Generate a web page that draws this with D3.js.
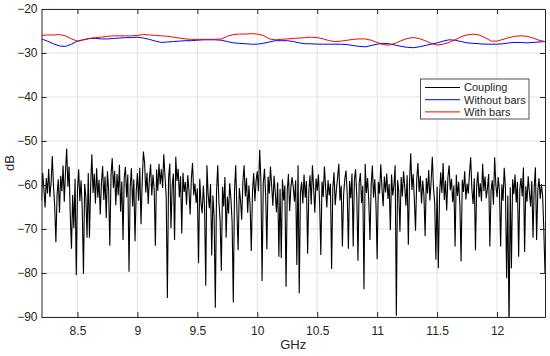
<!DOCTYPE html>
<html>
<head>
<meta charset="utf-8">
<script src="https://cdn.jsdelivr.net/npm/d3@7"></script>
<style>
  html, body { margin: 0; padding: 0; background: #fff; }
  svg { display: block; font-family: "Liberation Sans", Arial, sans-serif; }
</style>
</head>
<body>
<div id="chart"></div>
<script>
// sweep: 8.2 .. 12.4 GHz
const fStart = 8.2, fStop = 12.4;

// blue / red traces, one value every 0.05 GHz
const withoutBars = [
  -26.8, -27.3, -27.9, -28.4, -28.5, -28.0, -27.3, -27.0, -26.7, -26.7,
  -26.8, -26.8, -26.7, -26.6, -26.5, -26.5, -26.4, -26.6, -26.9, -27.3,
  -27.6, -27.5, -27.4, -27.3, -27.2, -27.2, -27.1, -27.0, -27.0, -27.0,
  -27.1, -27.4, -27.7, -27.8, -27.9, -28.0, -28.0, -27.8, -27.5, -27.2,
  -27.2, -27.2, -27.4, -27.7, -27.9, -27.9, -28.0, -28.0, -28.0, -28.0,
  -28.0, -28.1, -28.3, -28.5, -28.6, -28.3, -28.0, -27.8, -27.9, -28.2,
  -28.5, -28.7, -28.8, -28.6, -28.3, -28.0, -27.7, -27.3, -27.0, -27.1,
  -27.4, -27.7, -27.8, -27.9, -28.0, -28.0, -28.0, -27.9, -27.7, -27.6,
  -27.6, -27.7, -27.6, -27.5, -27.4
];
const withBars = [
  -26.0, -25.9, -25.9, -25.8, -26.1, -26.8, -27.3, -27.0, -26.7, -26.5,
  -26.4, -26.2, -26.1, -26.1, -26.1, -26.1, -26.0, -25.8, -25.9, -26.0,
  -26.1, -26.2, -26.4, -26.6, -26.8, -26.9, -26.9, -26.9, -26.9, -26.9,
  -26.8, -26.2, -25.8, -25.7, -25.7, -25.6, -25.7, -26.0, -26.8, -27.0,
  -26.9, -26.8, -26.7, -26.6, -26.5, -26.4, -26.5, -26.8, -27.2, -27.4,
  -27.3, -27.1, -26.9, -26.8, -26.8, -27.1, -27.6, -28.1, -28.2, -27.8,
  -27.2, -26.7, -26.5, -26.7, -27.2, -27.8, -28.2, -28.0, -27.6, -27.0,
  -26.3, -25.9, -25.7, -25.9, -26.5, -27.3, -27.3, -26.9, -26.5, -26.2,
  -26.1, -26.2, -26.6, -27.1, -27.4
];

// black trace, one value every 0.01 GHz
const coupling = [
  -63.5, -57.2, -60.8, -65.1, -58.4, -61.9, -56.3, -62.7, -59.5, -53.4,
  -60.2, -64.8, -73.0, -62.1, -58.7, -66.3, -57.9, -61.4, -55.6, -63.8,
  -57.1, -51.7, -60.4, -55.8, -66.9, -74.5, -62.3, -69.8, -58.6, -80.5,
  -61.2, -56.4, -63.7, -58.9, -65.5, -80.2, -59.8, -62.6, -72.0, -57.3,
  -72.0, -60.1, -53.0, -61.8, -57.4, -64.2, -56.2, -62.9, -58.8, -66.7,
  -59.6, -55.7, -63.4, -58.1, -67.5, -56.9, -61.2, -73.8, -57.8, -53.9,
  -60.7, -56.8, -64.6, -57.5, -62.3, -55.4, -66.1, -59.2, -72.5, -58.3,
  -55.9, -62.8, -57.6, -79.7, -60.4, -56.2, -64.9, -58.7, -72.8, -61.5,
  -57.3, -63.6, -56.1, -68.9, -59.4, -52.4, -55.0, -61.7, -57.2, -64.3,
  -58.6, -55.3, -62.4, -57.7, -60.9, -73.8, -56.5, -61.3, -55.2, -59.8,
  -56.4, -60.7, -53.0, -57.9, -62.5, -85.7, -58.3, -55.1, -69.8, -60.2,
  -57.4, -72.5, -53.6, -59.1, -56.3, -62.8, -58.0, -71.0, -57.2, -61.6,
  -59.3, -64.5, -57.8, -61.2, -66.7, -58.5, -55.0, -62.3, -59.7, -64.1,
  -60.8, -77.8, -58.6, -63.9, -66.4, -60.2, -64.7, -82.9, -55.5, -62.1,
  -65.3, -59.8, -76.0, -62.4, -67.2, -87.9, -61.6, -55.5, -63.8, -68.1,
  -79.5, -60.4, -64.9, -58.2, -72.0, -62.7, -66.5, -59.6, -63.1, -68.4,
  -86.7, -61.3, -55.5, -65.8, -74.8, -60.7, -63.4, -67.9, -59.2, -55.5,
  -62.6, -58.4, -66.3, -60.1, -64.8, -75.0, -61.5, -57.3, -63.7, -59.0,
  -56.9, -61.4, -52.0, -58.8, -81.8, -59.6, -56.3, -62.5, -74.6, -58.1,
  -62.0, -55.8, -60.3, -64.7, -57.9, -61.8, -66.2, -59.4, -76.3, -60.9,
  -76.6, -58.7, -63.5, -60.1, -83.1, -61.2, -57.5, -65.9, -60.6, -58.2,
  -60.4, -63.8, -58.9, -78.2, -55.5, -84.6, -61.7, -59.3, -64.2, -57.6,
  -62.9, -59.1, -75.6, -61.5, -57.8, -64.4, -55.5, -60.7, -66.3, -58.5,
  -61.3, -57.6, -63.9, -75.9, -59.2, -62.7, -55.8, -60.5, -65.1, -58.9,
  -62.4, -59.7, -79.1, -60.8, -57.1, -64.6, -61.0, -58.3, -55.2, -63.5,
  -60.2, -74.0, -62.3, -58.6, -56.7, -61.9, -74.5, -59.1, -63.0, -57.4,
  -74.0, -58.8, -56.4, -62.7, -77.2, -59.5, -57.3, -64.1, -60.2, -83.7,
  -55.2, -61.8, -58.4, -63.6, -72.5, -60.1, -55.6, -62.9, -58.7, -64.4,
  -76.9, -59.3, -62.0, -55.3, -60.6, -64.8, -58.1, -61.7, -57.4, -63.2,
  -59.8, -70.2, -57.6, -62.4, -60.0, -55.5, -89.7, -58.9, -61.3, -70.6,
  -58.2, -62.6, -56.9, -60.4, -64.7, -57.8, -73.6, -59.4, -52.8, -61.1,
  -57.5, -63.2, -70.4, -58.7, -55.0, -61.6, -57.9, -64.2, -59.0, -62.3,
  -71.6, -58.4, -61.9, -56.6, -63.5, -59.2, -53.6, -60.8, -64.0, -77.0,
  -60.4, -78.9, -62.7, -57.1, -61.8, -55.0, -63.4, -59.0, -65.8, -58.3,
  -55.5, -61.2, -58.6, -63.9, -60.1, -74.0, -57.7, -62.5, -59.3, -64.6,
  -77.4, -58.8, -61.6, -56.9, -63.3, -59.7, -62.0, -57.4, -53.7, -60.9,
  -64.3, -58.5, -74.8, -60.2, -57.0, -62.8, -59.6, -63.7, -55.2, -61.4,
  -58.1, -63.0, -60.7, -57.5, -74.0, -61.3, -58.9, -64.5, -53.7, -60.0,
  -62.8, -58.2, -61.5, -74.0, -59.9, -63.6, -56.1, -60.8, -81.2, -62.4,
  -93.0, -60.5, -78.9, -58.7, -62.1, -57.6, -64.0, -59.3, -76.3, -61.0,
  -58.4, -62.6, -56.0, -75.2, -60.3, -63.8, -58.0, -61.7, -64.9, -59.1,
  -72.0, -60.6, -56.0, -72.5, -61.2, -58.5, -63.1, -59.8, -62.4, -70.0,
  -80.0
];

const xTicks = [8.5, 9, 9.5, 10, 10.5, 11, 11.5, 12];
const yTicks = [-90, -80, -70, -60, -50, -40, -30, -20];
const seriesNames = ['Coupling', 'Without bars', 'With bars'];
const seriesColors = ['#000000', '#0000ff', '#ff0000'];

const W = 550, H = 356;
const margin = { top: 9, right: 5, bottom: 39, left: 41.5 };
const innerW = W - margin.left - margin.right;
const innerH = H - margin.top - margin.bottom;
const axisColor = '#262626';

const svg = d3.select('#chart').append('svg')
  .attr('width', W).attr('height', H);

const x = d3.scaleLinear().domain([fStart, fStop]).range([0, innerW]);
const y = d3.scaleLinear().domain([-90, -20]).range([innerH, 0]);

const g = svg.append('g').attr('transform', `translate(${margin.left},${margin.top})`);

// grid
g.append('g').selectAll('line.gx').data(xTicks).join('line')
  .attr('x1', d => x(d)).attr('x2', d => x(d))
  .attr('y1', 0).attr('y2', innerH)
  .attr('stroke', '#e3e3e3').attr('stroke-width', 1);
g.append('g').selectAll('line.gy').data(yTicks).join('line')
  .attr('x1', 0).attr('x2', innerW)
  .attr('y1', d => y(d)).attr('y2', d => y(d))
  .attr('stroke', '#e3e3e3').attr('stroke-width', 1);

// traces
svg.append('defs').append('clipPath').attr('id', 'clip')
  .append('rect').attr('width', innerW).attr('height', innerH);

const plot = g.append('g').attr('clip-path', 'url(#clip)');

function stepLine(step) {
  return d3.line()
    .x((d, i) => x(fStart + i * step))
    .y(d => y(d));
}

plot.append('path').datum(coupling)
  .attr('d', stepLine(0.01))
  .attr('fill', 'none').attr('stroke', seriesColors[0]).attr('stroke-width', 1.1);
plot.append('path').datum(withoutBars)
  .attr('d', stepLine(0.05))
  .attr('fill', 'none').attr('stroke', seriesColors[1]).attr('stroke-width', 1);
plot.append('path').datum(withBars)
  .attr('d', stepLine(0.05))
  .attr('fill', 'none').attr('stroke', seriesColors[2]).attr('stroke-width', 1);

// axes, matlab style: ticks inward on all four sides
const tickLen = 5;
function styleAxis(sel) {
  sel.selectAll('path').attr('stroke', axisColor);
  sel.selectAll('line').attr('stroke', axisColor);
  sel.selectAll('text').attr('fill', axisColor).attr('font-size', 12)
    .attr('font-family', '"Liberation Sans", Arial, sans-serif');
}

g.append('g').attr('transform', `translate(0,${innerH})`)
  .call(d3.axisBottom(x).tickValues(xTicks).tickFormat(d3.format('')).tickSizeInner(-tickLen).tickSizeOuter(0).tickPadding(9))
  .call(styleAxis);
g.append('g')
  .call(d3.axisTop(x).tickValues(xTicks).tickFormat('').tickSizeInner(-tickLen).tickSizeOuter(0))
  .call(styleAxis);
g.append('g')
  .call(d3.axisLeft(y).tickValues(yTicks).tickFormat(d3.format('')).tickSizeInner(-tickLen).tickSizeOuter(0).tickPadding(4))
  .call(styleAxis);
g.append('g').attr('transform', `translate(${innerW},0)`)
  .call(d3.axisRight(y).tickValues(yTicks).tickFormat('').tickSizeInner(-tickLen).tickSizeOuter(0))
  .call(styleAxis);

// axis labels
svg.append('text')
  .attr('x', margin.left + innerW / 2).attr('y', 349)
  .attr('text-anchor', 'middle').attr('font-size', 13).attr('fill', axisColor)
  .text('GHz');
svg.append('text')
  .attr('transform', `translate(14,${margin.top + innerH / 2}) rotate(-90)`)
  .attr('text-anchor', 'middle').attr('font-size', 13).attr('fill', axisColor)
  .text('dB');

// legend
const leg = svg.append('g').attr('transform', 'translate(420.5,79)');
leg.append('rect')
  .attr('width', 108.5).attr('height', 40)
  .attr('fill', '#fff').attr('stroke', axisColor).attr('stroke-width', 0.8);
seriesNames.forEach((name, i) => {
  const yy = 8.5 + i * 12.2;
  leg.append('line')
    .attr('x1', 4.5).attr('x2', 39.5).attr('y1', yy).attr('y2', yy)
    .attr('stroke', seriesColors[i]).attr('stroke-width', 1);
  leg.append('text')
    .attr('x', 43.5).attr('y', yy).attr('dy', '0.35em')
    .attr('font-size', 11).attr('fill', axisColor)
    .text(name);
});
</script>
</body>
</html>
